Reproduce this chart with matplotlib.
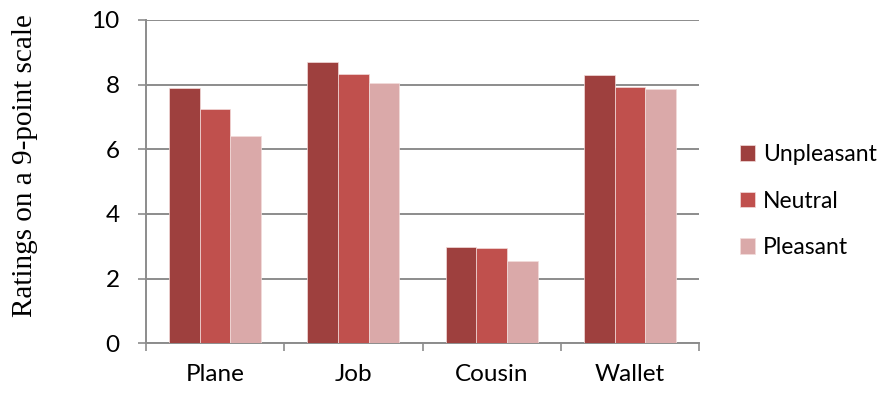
import matplotlib
matplotlib.use("Agg")
import matplotlib.pyplot as plt
import numpy as np

categories = ["Plane", "Job", "Cousin", "Wallet"]
series_names = ["Unpleasant", "Neutral", "Pleasant"]
unpleasant = [7.91, 8.71, 2.99, 8.29]
neutral = [7.24, 8.32, 2.94, 7.92]
pleasant = [6.41, 8.05, 2.55, 7.86]
colors = ["#9E403E", "#C0504D", "#DAA9A9"]
yticks = [0, 2, 4, 6, 8, 10]

fig = plt.figure(figsize=(8.89, 3.94), dpi=100)
ax = fig.add_axes([146 / 889, 1 - 343.3 / 394, 553 / 889, 323.3 / 394])

x = np.arange(len(categories))
width = 0.222
for i, (vals, name) in enumerate(zip([unpleasant, neutral, pleasant], series_names)):
    ax.bar(x + (i - 1) * width, vals, width, color=colors[i], label=name,
           edgecolor="#F2DCDB", linewidth=0.5, zorder=3)

ax.set_xlim(-0.5, len(categories) - 0.5)
ax.set_ylim(0, 10)
ax.set_yticks(yticks)
ax.yaxis.grid(True, color="#8C8C8C", linewidth=1.4, zorder=0)
ax.set_axisbelow(True)

# category ticks sit on the boundaries between groups
ax.set_xticks(np.arange(len(categories) + 1) - 0.5, minor=False)
ax.set_xticklabels([])
ax.set_xticks(x, minor=True)
ax.set_xticklabels(categories, minor=True, fontsize=17.5, family="Lato")
ax.tick_params(axis="x", which="minor", length=0, pad=15)
ax.tick_params(axis="x", which="major", length=6, width=1.2, color="#8C8C8C")
ax.tick_params(axis="y", length=6, width=1.2, color="#8C8C8C", pad=13)
for lab in ax.get_yticklabels():
    lab.set_fontsize(17.5)
    lab.set_family("Lato")

for side in ["top", "right"]:
    ax.spines[side].set_visible(False)
for side in ["left", "bottom"]:
    ax.spines[side].set_color("#8C8C8C")
    ax.spines[side].set_linewidth(1.4)

ax.set_ylabel("Ratings on a 9-point scale", fontsize=21, family="Liberation Serif")
ax.yaxis.set_label_coords(-0.195, 0.55)

leg = ax.legend(loc="center left", bbox_to_anchor=(1.036, 0.44), frameon=False,
                prop={"family": "Lato", "size": 16.5}, handlelength=0.68,
                handleheight=0.68, handletextpad=0.35, labelspacing=1.1)

fig.savefig("out.png", dpi=100)
plt.close(fig)
